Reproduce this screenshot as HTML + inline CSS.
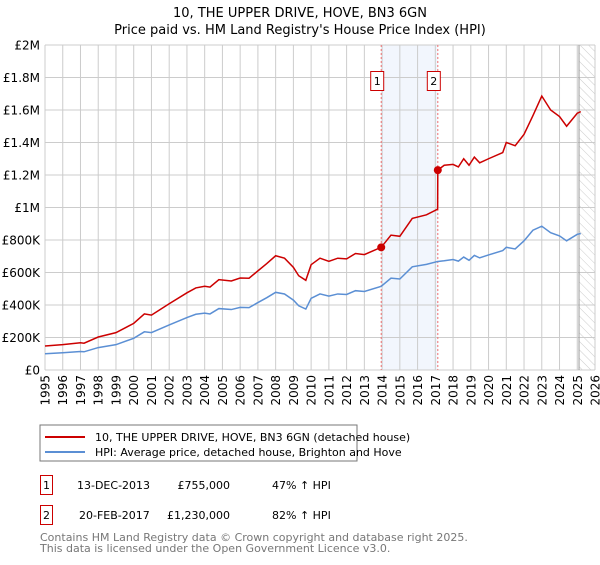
<!DOCTYPE html>
<html><head><meta charset="utf-8"><style>
body{margin:0;background:#fff;font-family:"Liberation Sans","DejaVu Sans",sans-serif;}
svg text{font-family:"DejaVu Sans","Liberation Sans",sans-serif;}
</style></head><body>
<svg id="c" width="600" height="560" viewBox="0 0 600 560" xmlns="http://www.w3.org/2000/svg">
<defs><pattern id="hatch" width="6" height="6" patternUnits="userSpaceOnUse" patternTransform="rotate(-45)"><line x1="0" y1="0" x2="0" y2="6" stroke="#ccc" stroke-width="1"/></pattern></defs>
<text x="300" y="17" text-anchor="middle" font-size="13">10, THE UPPER DRIVE, HOVE, BN3 6GN</text>
<text x="300" y="34" text-anchor="middle" font-size="13">Price paid vs. HM Land Registry's House Price Index (HPI)</text>
<g id="grid"></g><g id="marks"></g><g id="axes"></g>
<rect x="40" y="425" width="317" height="36" fill="#fff" stroke="#777"/>
<line x1="45" y1="437" x2="85" y2="437" stroke="#cc0000" stroke-width="2"/>
<text x="95" y="441" font-size="11">10, THE UPPER DRIVE, HOVE, BN3 6GN (detached house)</text>
<line x1="45" y1="452" x2="85" y2="452" stroke="#5b8fd4" stroke-width="2"/>
<text x="95" y="456" font-size="11">HPI: Average price, detached house, Brighton and Hove</text>
<g>
<rect x="40.5" y="475.5" width="12" height="19" fill="#fff" stroke="#cc0000"/>
<text x="46.5" y="489" text-anchor="middle" font-size="11">1</text>
<text x="77" y="489" font-size="11">13-DEC-2013</text>
<text x="230" y="489" text-anchor="end" font-size="11">£755,000</text>
<text x="272" y="489" font-size="11">47% ↑ HPI</text></g>
<g>
<rect x="40.5" y="505.5" width="12" height="19" fill="#fff" stroke="#cc0000"/>
<text x="46.5" y="519" text-anchor="middle" font-size="11">2</text>
<text x="79" y="519" font-size="11">20-FEB-2017</text>
<text x="230" y="519" text-anchor="end" font-size="11">£1,230,000</text>
<text x="272" y="519" font-size="11">82% ↑ HPI</text></g>
<text x="40" y="541" font-size="11" fill="#777">Contains HM Land Registry data © Crown copyright and database right 2025.</text>
<text x="40" y="552" font-size="11" fill="#777">This data is licensed under the Open Government Licence v3.0.</text>
</svg>
<script>
const hpiYears=[1995,1996,1997,1997.2,1998,1999,2000,2000.6,2001,2002,2003,2003.5,2004,2004.3,2004.8,2005.5,2006,2006.5,2007,2007.5,2008,2008.5,2009,2009.3,2009.7,2010,2010.5,2011,2011.5,2012,2012.5,2013,2013.95,2014.5,2015,2015.7,2016.5,2017.14,2017.5,2018,2018.3,2018.6,2018.9,2019.2,2019.5,2020,2020.8,2021,2021.5,2022,2022.5,2023,2023.5,2024,2024.4,2025,2025.2];
const hpiValues=[100,106,114,112,138,156,195,235,230,277,323,343,350,345,378,372,385,384,415,445,478,468,430,395,375,441,468,455,468,465,488,483,515,565,560,635,650,668,672,680,670,695,675,705,690,708,735,755,745,795,860,885,845,825,795,835,840];
const propYears=[1995,1996,1997,1997.2,1998,1999,2000,2000.6,2001,2002,2003,2003.5,2004,2004.3,2004.8,2005.5,2006,2006.5,2007,2007.5,2008,2008.5,2009,2009.3,2009.7,2010,2010.5,2011,2011.5,2012,2012.5,2013,2013.95,2014.5,2015,2015.7,2016.5,2017.13,2017.14,2017.5,2018,2018.3,2018.6,2018.9,2019.2,2019.5,2020,2020.8,2021,2021.5,2022,2022.5,2023,2023.5,2024,2024.4,2025,2025.2];
const propValues=[148,156,168,165,203,230,287,345,338,408,475,505,515,510,556,548,566,565,610,655,703,688,632,580,552,648,688,669,688,684,717,710,755,830,823,933,955,990,1230,1260,1265,1250,1300,1260,1310,1275,1300,1338,1400,1380,1450,1565,1686,1600,1560,1500,1580,1590];
const sales=[{n:"1",year:2013.95,value:755},{n:"2",year:2017.14,value:1230}];
const yTicks=[0,200,400,600,800,1000,1200,1400,1600,1800,2000];
const yTickLabels=["£0","£200K","£400K","£600K","£800K","£1M","£1.2M","£1.4M","£1.6M","£1.8M","£2M"];
const xTicks=[];for(let y=1995;y<=2026;y++)xTicks.push(y);
const dataEnd=2025.1;
const X0=45,X1=595,Y0=370,Y1=45;
const xs=v=>X0+(v-1995)/(2026-1995)*(X1-X0);
const ys=v=>Y0-v/2000*(Y0-Y1);
const NS="http://www.w3.org/2000/svg";
function mk(tag,at,parent){const e=document.createElementNS(NS,tag);for(const k in at)e.setAttribute(k,at[k]);parent.appendChild(e);return e;}
const grid=document.getElementById('grid'),marks=document.getElementById('marks'),axes=document.getElementById('axes');
let r=mk('rect',{x:xs(sales[0].year),y:Y1,width:xs(sales[1].year)-xs(sales[0].year),height:Y0-Y1,fill:'#f2f6fd'},grid);


r=mk('rect',{x:xs(dataEnd),y:Y1,width:X1-xs(dataEnd),height:Y0-Y1,fill:'url(#hatch)'},grid);


xTicks.forEach(t=>{const l=mk('line',{x1:xs(t),x2:xs(t),y1:Y1,y2:Y0,stroke:'#ccc'},grid);


const tx=mk('text',{x:0,y:0,'font-size':12,'text-anchor':'end',transform:`translate(${xs(t)+4.5},375) rotate(-90)`},axes);tx.textContent=t;

});
yTicks.forEach((t,i)=>{const l=mk('line',{x1:X0,x2:X1,y1:ys(t),y2:ys(t),stroke:'#ccc'},grid);


const tx=mk('text',{x:40,y:ys(t)+4.5,'font-size':12,'text-anchor':'end'},axes);tx.textContent=yTickLabels[i];

});
let dl=mk('line',{x1:xs(dataEnd),x2:xs(dataEnd),y1:Y1,y2:Y0,stroke:'#999'},grid);


sales.forEach(s=>{const l=mk('line',{x1:xs(s.year),x2:xs(s.year),y1:Y1,y2:Y0,stroke:'#f07070','stroke-dasharray':'2,2'},marks);


const b=mk('rect',{x:xs(s.year)-10.5,y:71.5,width:13,height:19,fill:'#fff',stroke:'#cc0000'},marks);


const t=mk('text',{x:xs(s.year)-4,y:85,'font-size':11,'text-anchor':'middle'},marks);t.textContent=s.n;

});
let p=mk('polyline',{points:hpiYears.map((y,i)=>xs(y)+','+ys(hpiValues[i])).join(' '),fill:'none',stroke:'#5b8fd4','stroke-width':1.5},marks);


p=mk('polyline',{points:propYears.map((y,i)=>xs(y)+','+ys(propValues[i])).join(' '),fill:'none',stroke:'#cc0000','stroke-width':1.5},marks);


sales.forEach(s=>{const c=mk('circle',{cx:xs(s.year),cy:ys(s.value),r:4,fill:'#cc0000'},marks);

});
</script>
</body></html>
